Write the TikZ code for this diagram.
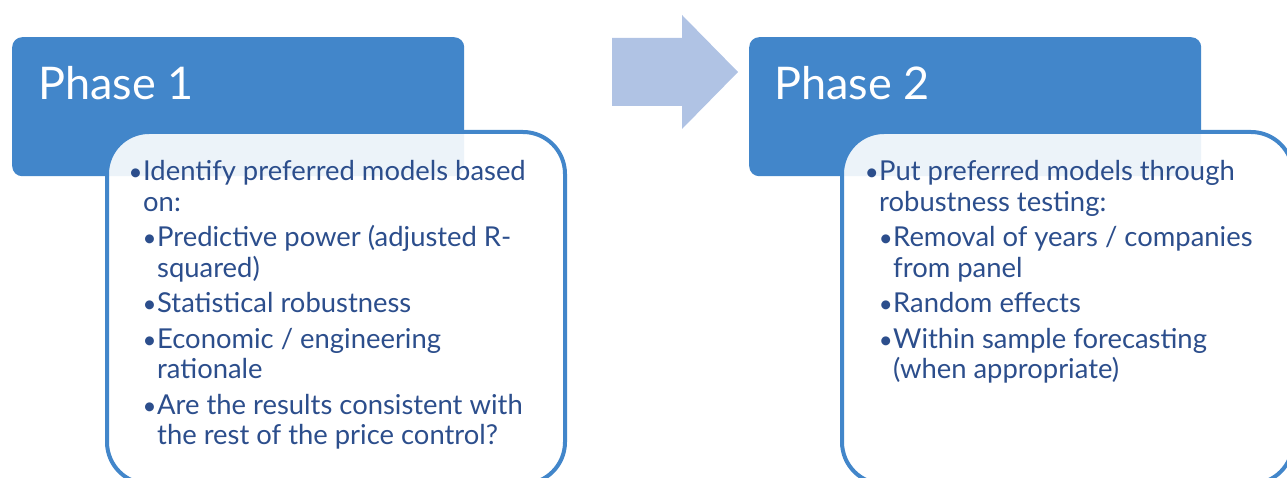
\documentclass[tikz,border=0pt]{standalone}
\usepackage{fontspec}
\setmainfont{Lato}
\definecolor{hdrblue}{RGB}{66,134,202}
\definecolor{arrowblue}{RGB}{176,195,228}
\definecolor{txtblue}{RGB}{44,78,140}
\newcommand{\bdot}{\makebox[15pt][c]{\fontsize{24}{24}\selectfont\textbullet}}
\newcommand{\bulA}{\noindent\hangindent=15pt\hangafter=1\bdot}
\newcommand{\bulB}{\noindent\hangindent=29pt\hangafter=1\hspace*{14pt}\bdot}
\newenvironment{bodytext}{\begin{minipage}[t]{520pt}\fontsize{27.4}{30.5}\selectfont\setlength{\parskip}{5pt}}{\end{minipage}}
\begin{document}
\begin{tikzpicture}[x=1pt,y=-1pt,
  header/.style={fill=hdrblue, rounded corners=10pt, inner sep=0pt, anchor=north west, minimum width=452pt, minimum height=139pt},
  detail/.style={draw=hdrblue, line width=4pt, fill=white, fill opacity=0.9, rounded corners=42pt, inner sep=0pt, anchor=north west, minimum height=352pt},
  title/.style={text=white, font=\fontsize{45}{45}\selectfont, anchor=base west, inner sep=0pt},
  body/.style={anchor=base west, inner sep=0pt, text=txtblue}]
\useasboundingbox (0,0) rectangle (1287,478);
\clip (0,0) rectangle (1287,478);
% arrow
\fill[arrowblue] (612,38) -- (682,38) -- (682,15) -- (738,72) -- (682,129) -- (682,106) -- (612,106) -- cycle;
% phase 1
\node[header] (p1) at (12,37) {};
\node[title] (t1) at (38,100) {Phase 1};
\node[detail, minimum width=458pt] (d1) at (105,130) {};
\node[body] (b1) at (128,181) {\begin{bodytext}
\bulA Identify preferred models based\\on:\par
\bulB Predictive power (adjusted R-\\squared)\par
\bulB Statistical robustness\par
\bulB Economic / engineering\\rationale\par
\bulB Are the results consistent with\\the rest of the price control?\par
\end{bodytext}};
% phase 2
\node[header] (p2) at (749,37) {};
\node[title] (t2) at (774,100) {Phase 2};
\node[detail, minimum width=451pt] (d2) at (840,130) {};
\node[body] (b2) at (864,181) {\begin{bodytext}
\bulA Put preferred models through\\robustness testing:\par
\bulB Removal of years / companies\\from panel\par
\bulB Random effects\par
\bulB Within sample forecasting\\(when appropriate)\par
\end{bodytext}};
\end{tikzpicture}
\end{document}
